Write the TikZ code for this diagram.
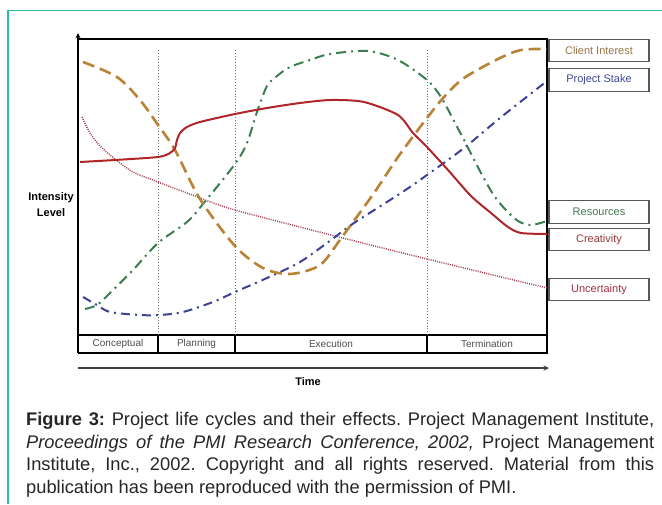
\documentclass[tikz,border=0pt]{standalone}
\usepackage{fontspec}
\setmainfont{Liberation Sans}
\frenchspacing
\definecolor{frameteal}{RGB}{36,192,166}
\definecolor{clientbrown}{RGB}{186,130,52}
\definecolor{stakeblue}{RGB}{60,64,150}
\definecolor{resgreen}{RGB}{62,124,82}
\definecolor{creatred}{RGB}{176,38,40}
\definecolor{uncertred}{RGB}{168,64,84}
\definecolor{clienttext}{RGB}{150,118,70}
\definecolor{staketext}{RGB}{62,72,150}
\definecolor{restext}{RGB}{62,120,80}
\definecolor{creattext}{RGB}{150,58,58}
\definecolor{uncerttext}{RGB}{160,48,64}

\begin{document}
\begin{tikzpicture}[x=1pt, y=-1pt, >=stealth]

	\tikzstyle{legend}=[rectangle, draw=black!65, line width=1.1pt, minimum width=100pt, minimum height=22.5pt, inner sep=0pt, font=\fontsize{11}{13}\selectfont]
	\tikzstyle{phase}=[text=black!70, inner sep=0pt, font=\fontsize{10}{12}\selectfont]
	\tikzstyle{client}=[clientbrown, line width=2.6pt, dash pattern=on 12pt off 6pt]
	\tikzstyle{stake}=[stakeblue, line width=2pt, dash pattern=on 9pt off 5pt on 2pt off 5pt]
	\tikzstyle{resources}=[resgreen, line width=2pt, dash pattern=on 10pt off 5pt on 2pt off 5pt]
	\tikzstyle{creativity}=[creatred, line width=2pt]
	\tikzstyle{uncertainty}=[uncertred, line width=1.5pt, dash pattern=on 1pt off 1.2pt]
	\tikzstyle{divider}=[black!55, line width=0.9pt, dotted]

	\def \rowtop {335}
	\def \rowbot {353}

	\useasboundingbox (0,0) rectangle (662,504);
	\draw[frameteal, line width=1.6pt] (8,504) -- (8,10.5) -- (662,10.5);

	% axes and frame
	\coordinate (origin) at (78,\rowbot);
	\coordinate (ytop) at (78,33);
	\draw[line width=1.3pt] (78,39) -| (547,\rowbot) -- (origin);
	\draw[->, line width=1.3pt] (origin) -- (ytop);
	\draw[line width=1.1pt] (78,\rowtop) -- (547,\rowtop);

	% phases
	\draw[divider] (158,50) -- (158,\rowtop);
	\draw[divider] (235,50) -- (235,\rowtop);
	\draw[divider] (427,50) -- (427,\rowtop);
	\draw[line width=1.1pt] (158,\rowtop) -- (158,\rowbot);
	\draw[line width=1.1pt] (235,\rowtop) -- (235,\rowbot);
	\draw[line width=1.1pt] (427,\rowtop) -- (427,\rowbot);
	\node at (118,344) (conceptual) [phase] {Conceptual};
	\node at (196.5,344) (planning) [phase] {Planning};
	\node at (331,344) (execution) [phase] {Execution};
	\node at (487,344) (termination) [phase] {Termination};

	% time axis
	\coordinate (tstart) at (78,368);
	\coordinate (tend) at (549,368);
	\draw[->, line width=1.4pt, black!75] (tstart) -- (tend);
	\node at (308,382) (time) [font=\bfseries\fontsize{11}{13}\selectfont] {Time};
	\node at (51,205) (intensity) [align=center, inner sep=0pt, font=\bfseries\fontsize{11}{16}\selectfont] {Intensity\\Level};

	% curves
	\draw[uncertainty] plot[smooth] coordinates {(82,117) (90,133) (100,146) (115,159) (133,172) (158,182) (187,193) (200,198) (235,210) (331,235) (427,259) (547,288)};
	\draw[stake] plot[smooth] coordinates {(83,297) (97,305) (110,312) (140,315) (160,315) (183,312) (213,302) (235,292) (267,278) (300,262) (331,240) (354,223) (401,193) (427,175) (464,148) (500,118) (547,81)};
	\draw[resources] plot[smooth] coordinates {(85,309) (97,305) (110,293) (133,270) (158,243) (187,222) (203,204) (235,164) (247,143) (257,112) (267,86) (277,76) (290,67) (310,60) (330,54) (368,51) (398,60) (427,80) (441,97) (454,121) (464,140) (481,173) (493,194) (504,208) (518,221) (531,225) (547,221)};
	\draw[client] plot[smooth] coordinates {(83,62) (117,77) (140,100) (158,125) (175,150) (200,199) (235,246) (263,268) (290,274) (320,265) (342,237) (374,193) (398,157) (427,118) (444,97) (464,78) (498,59) (521,50) (547,49)};
	\draw[creativity] plot[smooth, tension=0.45] coordinates {(80,162) (115,160) (158,157) (170,153) (175,148) (177,140) (180,133) (187,127) (200,122) (235,114) (267,108) (300,103) (331,100) (364,102) (398,115) (413,133) (427,147) (448,170) (471,196) (491,213) (508,227) (521,233) (547,234)};

	% legend
	\node at (599,50.5) (clientlabel) [legend, text=clienttext] {Client Interest};
	\node at (599,80) (stakelabel) [legend, text=staketext] {Project Stake};
	\node at (599,212) (reslabel) [legend, text=restext] {Resources};
	\node at (599,239.5) (creatlabel) [legend, text=creattext] {Creativity};
	\node at (599,289.5) (uncertlabel) [legend, text=uncerttext] {Uncertainty};

	% caption
	\node at (26,412) (caption) [anchor=north west, text width=628pt, align=justify, inner sep=0pt, text=black!85, font=\fontsize{18.3}{22.6}\selectfont] {\textbf{Figure 3:} Project life cycles and their effects. Project Management Institute,\linebreak \textit{Proceedings of the PMI Research Conference, 2002,} Project Management\linebreak Institute, Inc., 2002. Copyright and all rights reserved. Material from this\linebreak publication has been reproduced with the permission of PMI.};
\end{tikzpicture}
\end{document}
